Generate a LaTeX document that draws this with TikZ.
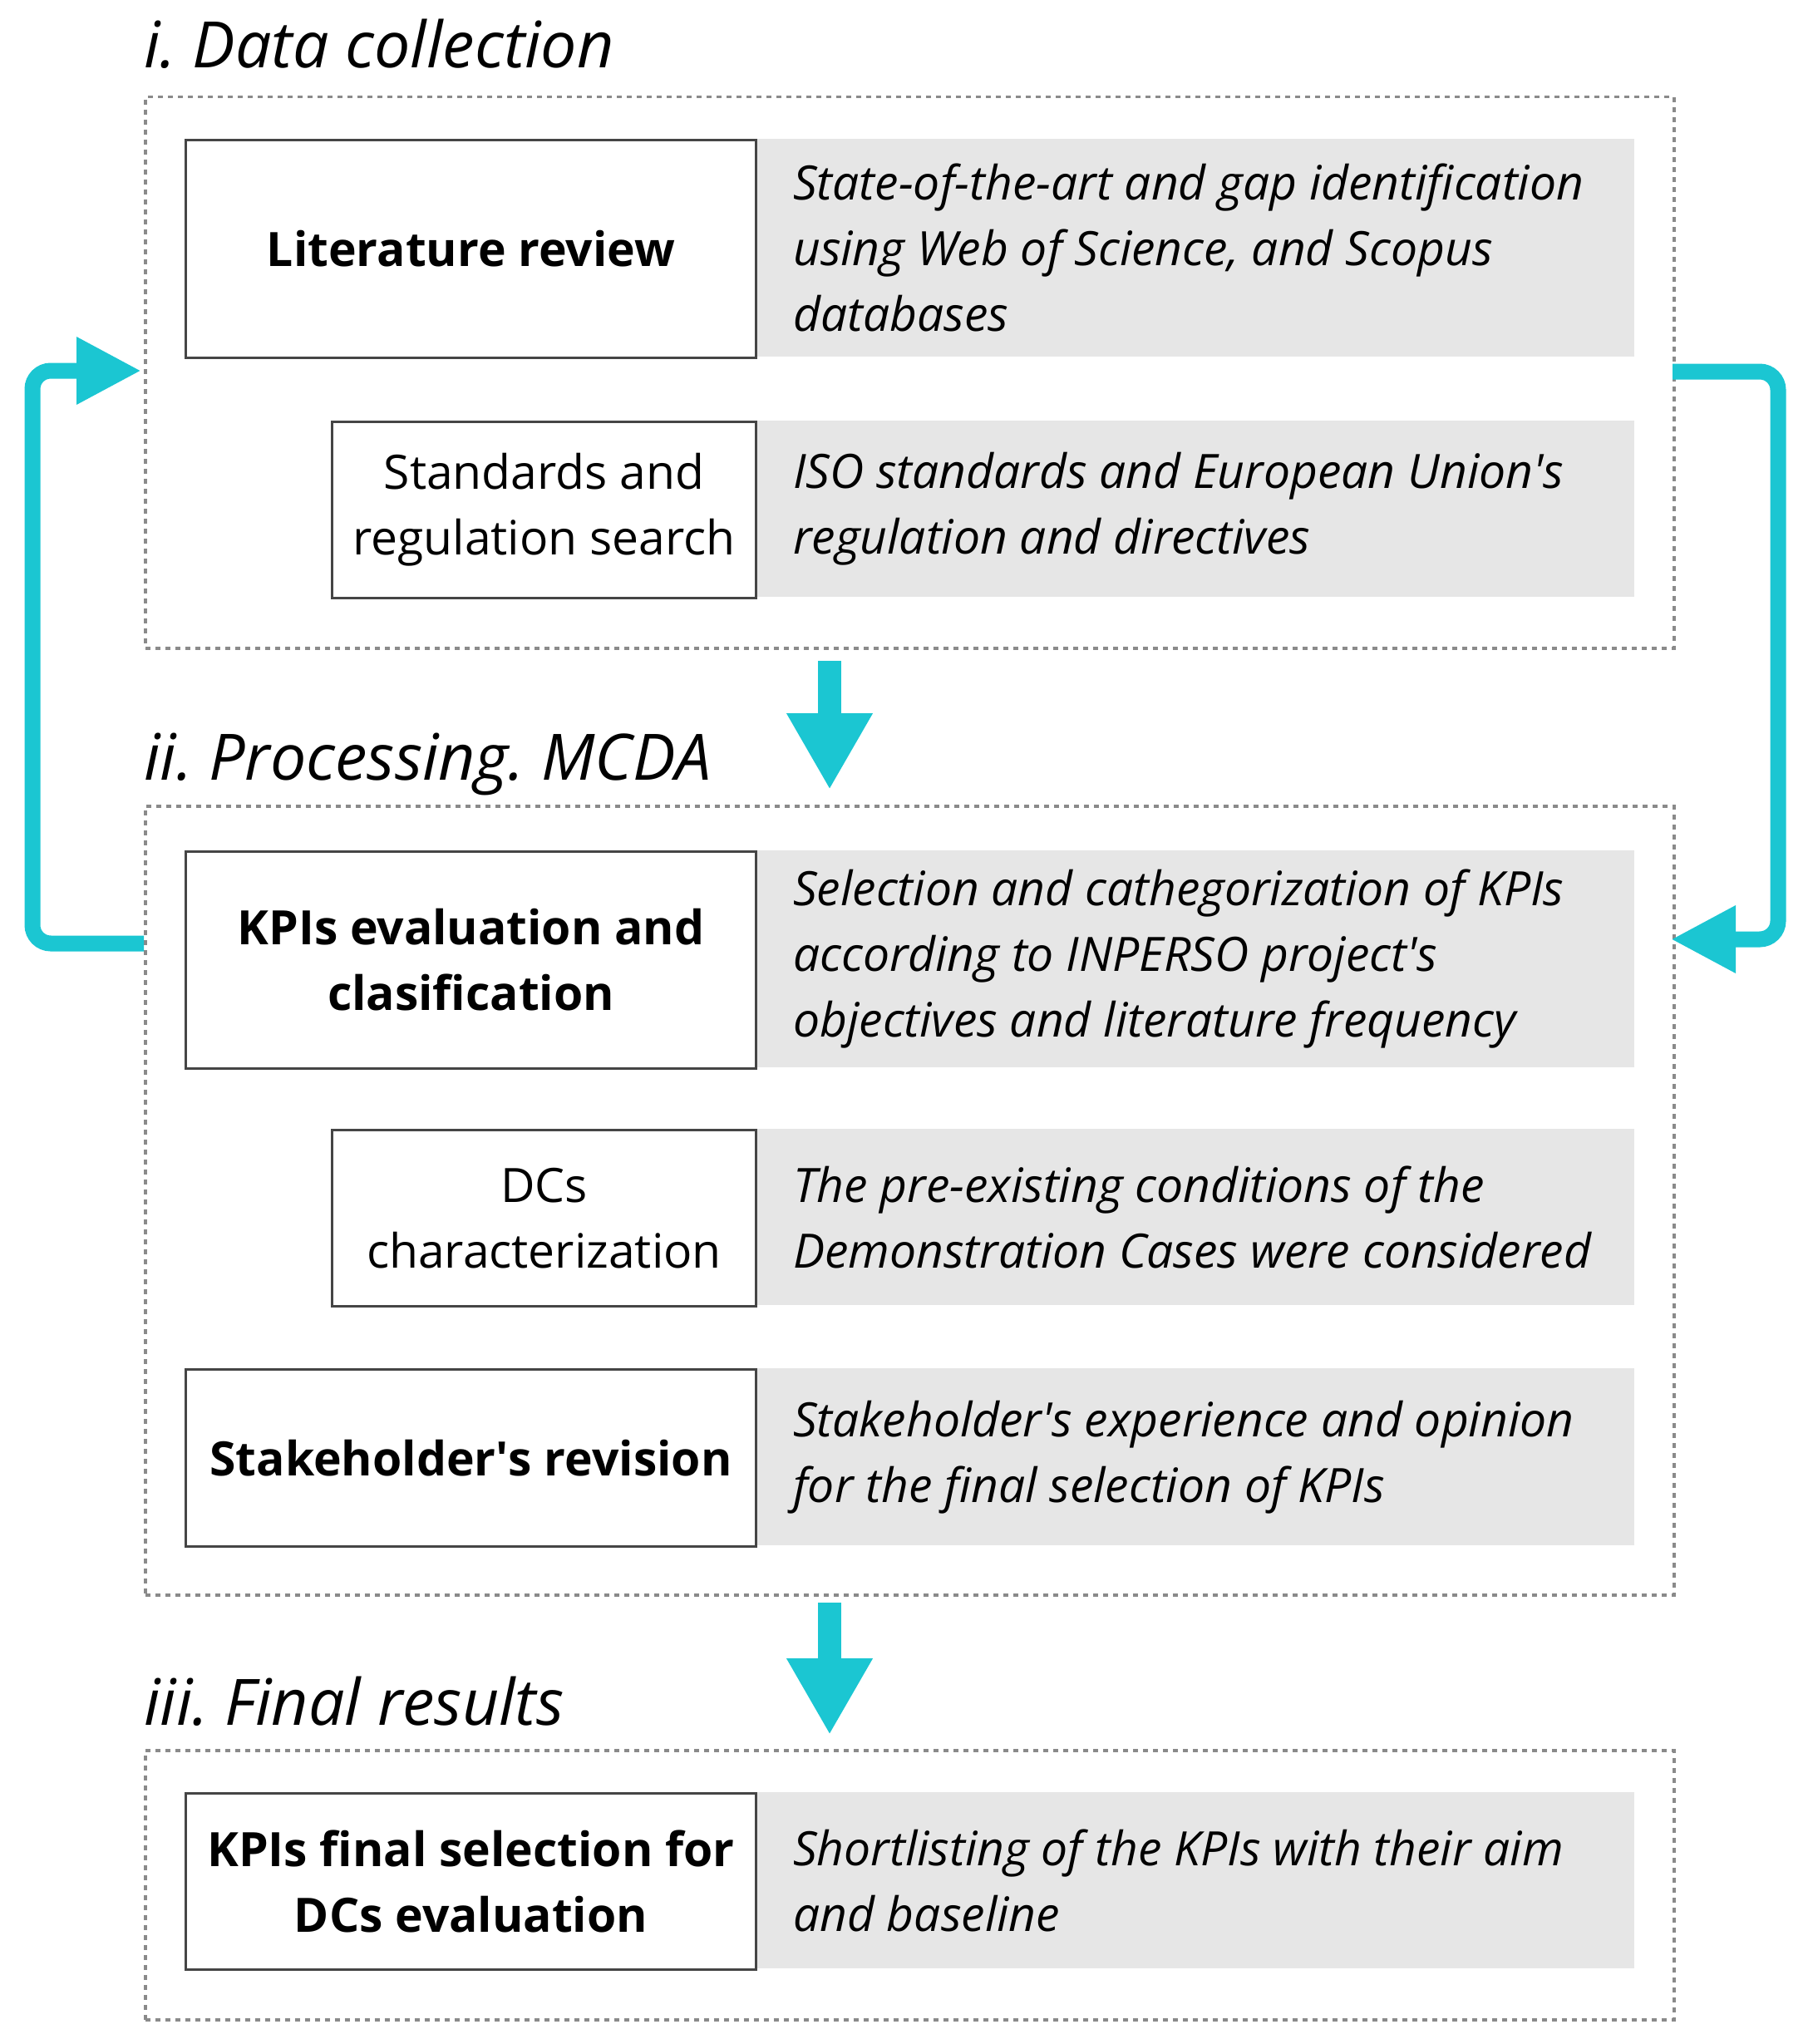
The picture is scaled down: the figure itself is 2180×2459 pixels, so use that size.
\documentclass[tikz,border=0pt]{standalone}
\usepackage{fontspec}
\setmainfont{Open Sans}
\usetikzlibrary{arrows.meta}
\definecolor{cy}{HTML}{1BC6D2}
\definecolor{gfill}{HTML}{E6E6E6}
\definecolor{bord}{HTML}{454545}
\definecolor{dotc}{HTML}{8A8A8A}
\newcommand{\ap}{\textquotesingle}
\tikzset{
  phase/.style={draw=dotc, line width=3.5pt, dash pattern=on 6pt off 6pt, anchor=north west, inner sep=0pt},
  wbox/.style={draw=bord, fill=white, line width=3pt, anchor=north west, inner sep=0pt, align=center,
     font=\fontsize{57}{79}\selectfont},
  wboxb/.style={wbox, font=\fontsize{57}{79}\selectfont\bfseries},
  gbox/.style={fill=gfill, anchor=north west, inner sep=0pt, minimum width=1058pt},
  gtext/.style={anchor=west, inner sep=0pt, align=left, font=\fontsize{57}{79}\selectfont\itshape},
  ttl/.style={anchor=base west, inner sep=0pt, font=\fontsize{77}{85}\selectfont\itshape},
  down/.style={cy, line width=28pt, -{Triangle[width=97pt,length=92pt]}},
  fb/.style={cy, line width=19pt, rounded corners=22pt, -{Triangle[width=76pt,length=78pt]}}
}
\begin{document}
\frenchspacing
\begin{tikzpicture}[x=1pt,y=-1pt]
\useasboundingbox (0,0) rectangle (2180,2459);
% titles
\node[ttl] (t1) at (173,82) {i. Data collection};
\node[ttl] (t2) at (173,938) {ii. Processing. MCDA};
\node[ttl] (t3) at (173,2075) {iii. Final results};
% phase boxes
\node[phase, minimum width=1839pt, minimum height=663pt] (box1) at (173,115) {};
\node[phase, minimum width=1839pt, minimum height=949pt] (box2) at (173,968) {};
\node[phase, minimum width=1839pt, minimum height=324pt] (box3) at (173,2104) {};
% phase i
\node[gbox, minimum height=262pt] (g1) at (908,167) {};
\node[gtext] (g1t) at ([xshift=46pt]g1.west) {State-of-the-art and gap identification\\using Web of Science, and Scopus\\databases};
\node[wboxb, minimum width=686pt, minimum height=262pt] (lit) at (222,167) {Literature review};
\node[gbox, minimum height=212pt] (g2) at (908,506) {};
\node[gtext] (g2t) at ([xshift=46pt]g2.west) {ISO standards and European Union\ap s\\regulation and directives};
\node[wbox, minimum width=510pt, minimum height=212pt] (std) at (398,506) {Standards and\\regulation search};
% phase ii
\node[gbox, minimum height=261pt] (g3) at (908,1023) {};
\node[gtext] (g3t) at ([xshift=46pt]g3.west) {Selection and cathegorization of KPIs\\according to INPERSO project\ap s\\objectives and literature frequency};
\node[wboxb, minimum width=686pt, minimum height=261pt] (kpi) at (222,1023) {KPIs evaluation and\\clasification};
\node[gbox, minimum height=212pt] (g4) at (908,1358) {};
\node[gtext] (g4t) at ([xshift=46pt]g4.west) {The pre-existing conditions of the\\Demonstration Cases were considered};
\node[wbox, minimum width=510pt, minimum height=212pt] (dcs) at (398,1358) {DCs\\characterization};
\node[gbox, minimum height=213pt] (g5) at (908,1646) {};
\node[gtext] (g5t) at ([xshift=46pt]g5.west) {Stakeholder\ap s experience and opinion\\for the final selection of KPIs};
\node[wboxb, minimum width=686pt, minimum height=213pt] (stk) at (222,1646) {Stakeholder\ap s revision};
% phase iii
\node[gbox, minimum height=212pt] (g6) at (908,2156) {};
\node[gtext] (g6t) at ([xshift=46pt]g6.west) {Shortlisting of the KPIs with their aim\\and baseline};
\node[wboxb, minimum width=686pt, minimum height=212pt] (fin) at (222,2156) {KPIs final selection for\\DCs evaluation};
% down arrows
\coordinate (d1s) at (998,795);
\coordinate (d1e) at (998,950);
\coordinate (d2s) at (998,1928);
\coordinate (d2e) at (998,2087);
\draw[down] (d1s) -- (d1e);
\draw[down] (d2s) -- (d2e);
% feedback arrows
\coordinate (l0) at (173,1135);
\coordinate (l1) at (170,446);
\draw[fb] (l0) -- (39,1135) -- (39,446) -- (l1);
\coordinate (r0) at (2012,447);
\coordinate (r1) at (2010,1130);
\draw[fb] (r0) -- (2139,447) -- (2139,1130) -- (r1);
\end{tikzpicture}
\end{document}
